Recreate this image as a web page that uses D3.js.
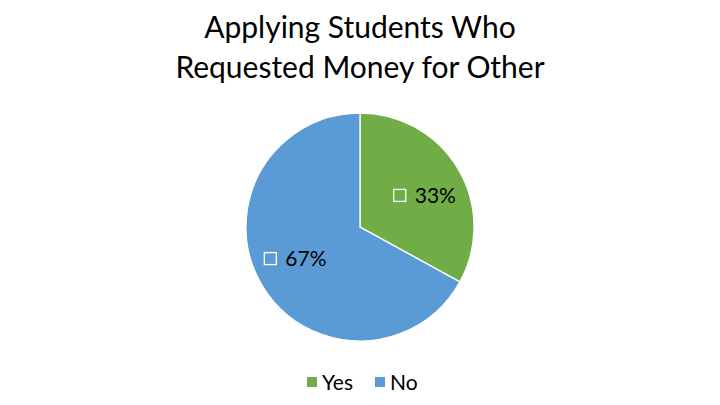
<!DOCTYPE html>
<meta charset="utf-8">
<script src="https://d3js.org/d3.v7.min.js"></script>
<style>
  body { margin: 0; background: #fff; }
  text { font-family: Lato, "Open Sans", sans-serif; fill: #000; }
</style>
<body>
<svg id="chart" width="720" height="405"></svg>
<script>
var titleLines = ["Applying Students Who", "Requested Money for Other"]
var categories = ["Yes", "No"]
var values = [33, 67]
var colors = ["#70AD47", "#5B9BD5"]

var svg = d3.select("#chart")
var w = 720, h = 405
var cx = 360, cy = 227, radius = 114

// title
svg.append("g").selectAll("text")
  .data(titleLines)
  .enter().append("text")
    .attr("x", w / 2)
    .attr("y", function (d, i) { return 38 + i * 40 })
    .attr("text-anchor", "middle")
    .attr("font-size", 30)
    .text(function (d) { return d })

var color = d3.scaleOrdinal().domain(categories).range(colors)

var pie = d3.pie().sort(null).value(function (d) { return d.value })
var data = categories.map(function (c, i) { return { name: c, value: values[i] } })
var arcs = pie(data)

var arc = d3.arc().innerRadius(0).outerRadius(radius)
var labelArc = d3.arc().innerRadius(72).outerRadius(72)

var g = svg.append("g").attr("transform", "translate(" + cx + "," + cy + ")")

g.selectAll("path")
  .data(arcs)
  .enter().append("path")
    .attr("d", arc)
    .attr("fill", function (d) { return color(d.data.name) })
    .attr("stroke", "#fff")
    .attr("stroke-width", 1.3)

var total = d3.sum(values)
var labels = g.selectAll(".lbl")
  .data(arcs)
  .enter().append("g")
    .attr("class", "lbl")
    .attr("transform", function (d) {
      // excel nudges labels slightly clockwise
      var c = labelArc.centroid({ startAngle: d.startAngle + 0.08, endAngle: d.endAngle + 0.08 })
      return "translate(" + c[0] + "," + c[1] + ")"
    })

labels.append("rect")
  .attr("x", -31).attr("y", -6)
  .attr("width", 12).attr("height", 12)
  .attr("fill", "none")
  .attr("stroke", "#fff")
  .attr("stroke-width", 1.3)

labels.append("text")
  .attr("x", -10)
  .attr("y", 7.5)
  .attr("font-size", 21)
  .text(function (d) { return Math.round(d.data.value / total * 100) + "%" })

// legend
var legend = svg.append("g").attr("transform", "translate(0,382)")
var legX = [307, 375]
var items = legend.selectAll("g")
  .data(categories)
  .enter().append("g")
    .attr("transform", function (d, i) { return "translate(" + legX[i] + ",0)" })
items.append("rect")
  .attr("x", 0).attr("y", -5)
  .attr("width", 10).attr("height", 10)
  .attr("fill", function (d) { return color(d) })
items.append("text")
  .attr("x", 15).attr("y", 7.5)
  .attr("font-size", 21)
  .text(function (d) { return d })
</script>
</body>
